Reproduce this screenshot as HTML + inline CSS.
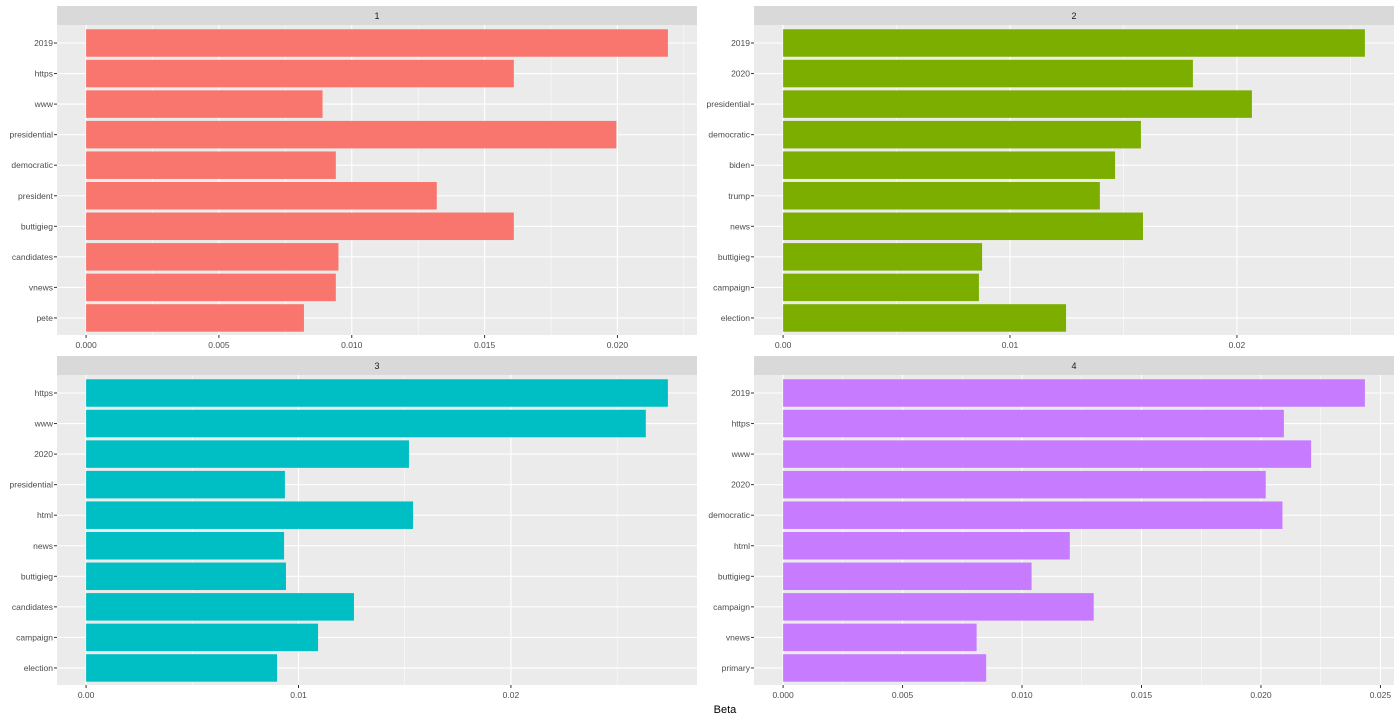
<!DOCTYPE html>
<html><head><meta charset="utf-8"><style>
body{margin:0;background:#fff;font-family:"Liberation Sans",sans-serif;}
svg text{font-family:"Liberation Sans",sans-serif;}
</style></head><body>
<svg id="chart" width="1400" height="720"></svg>
<script>
const terms1=["2019","https","www","presidential","democratic","president","buttigieg","candidates","vnews","pete"];
const beta1=[0.0219,0.0161,0.0089,0.01996,0.0094,0.0132,0.0161,0.0095,0.0094,0.0082];
const terms2=["2019","2020","presidential","democratic","biden","trump","news","buttigieg","campaign","election"];
const beta2=[0.02564,0.01806,0.02066,0.01577,0.01463,0.01396,0.01586,0.00877,0.00863,0.01247];
const terms3=["https","www","2020","presidential","html","news","buttigieg","candidates","campaign","election"];
const beta3=[0.02739,0.02635,0.0152,0.00936,0.01539,0.00932,0.00941,0.01261,0.01092,0.00899];
const terms4=["2019","https","www","2020","democratic","html","buttigieg","campaign","vnews","primary"];
const beta4=[0.02435,0.02096,0.0221,0.0202,0.0209,0.0120,0.0104,0.0130,0.0081,0.0085];
const ticks1=["0.000","0.005","0.010","0.015","0.020"];
const ticks2=["0.00","0.01","0.02"];
const ticks3=["0.00","0.01","0.02"];
const ticks4=["0.000","0.005","0.010","0.015","0.020","0.025"];
const panelLabels=["1","2","3","4"];

const NS="http://www.w3.org/2000/svg";
const svg=document.getElementById("chart");
function mk(tag,attrs,parent){const e=document.createElementNS(NS,tag);for(const k in attrs)e.setAttribute(k,attrs[k]);(parent||svg).appendChild(e);return e;}
const panels=[
 {t:terms1,b:beta1,ticks:ticks1,x:57,y:25,color:"#F8766D"},
 {t:terms2,b:beta2,ticks:ticks2,x:754,y:25,color:"#7CAE00"},
 {t:terms3,b:beta3,ticks:ticks3,x:57,y:375,color:"#00BFC4"},
 {t:terms4,b:beta4,ticks:ticks4,x:754,y:375,color:"#C77CFF"}];
const W=640,H=310;
panels.forEach((p,pi)=>{
  const g=mk("g",{});
  
  
  const mx=Math.max(...p.b);
  const lo=-0.05*mx,hi=mx*1.05;
  const sx=v=>p.x+(v-lo)/(hi-lo)*W;
  const step=30.55;
  const sy=i=>p.y+18+i*step;
  const strip=mk("rect",{x:p.x,y:p.y-19,width:W,height:19,fill:"#D9D9D9"},g);
  
  
  const st=mk("text",{x:p.x+W/2,y:p.y-6,"font-size":9,fill:"#1A1A1A","text-anchor":"middle"},g);st.textContent=panelLabels[pi];
  
  
  mk("rect",{x:p.x,y:p.y,width:W,height:H,fill:"#EBEBEB"},g);
  const tv=p.ticks.map(Number);
  const d=tv[1]-tv[0];
  for(let k=-1;k<tv.length;k++){const v=tv[0]+d*(k+0.5);if(v>lo&&v<hi)mk("line",{x1:sx(v),x2:sx(v),y1:p.y,y2:p.y+H,stroke:"#fff","stroke-width":0.5},g);}
  tv.forEach((v,k)=>{
    mk("line",{x1:sx(v),x2:sx(v),y1:p.y,y2:p.y+H,stroke:"#fff","stroke-width":1.1},g);
    mk("line",{x1:sx(v),x2:sx(v),y1:p.y+H,y2:p.y+H+3,stroke:"#333","stroke-width":1},g);
    const tl=mk("text",{x:sx(v),y:p.y+H+13,"font-size":8.5,fill:"#4D4D4D","text-anchor":"middle"},g);tl.textContent=p.ticks[k];
    
    
  });
  p.t.forEach((t,i)=>{
    mk("line",{x1:p.x,x2:p.x+W,y1:sy(i),y2:sy(i),stroke:"#fff","stroke-width":1.1},g);
  });
  p.t.forEach((t,i)=>{
    const r=mk("rect",{x:sx(0),y:sy(i)-step*0.45,width:sx(p.b[i])-sx(0),height:step*0.9,fill:p.color},g);
    
    
    mk("line",{x1:p.x-3,x2:p.x,y1:sy(i),y2:sy(i),stroke:"#333","stroke-width":1},g);
    const lb=mk("text",{x:p.x-4,y:sy(i)+3,"font-size":8.5,fill:"#4D4D4D","text-anchor":"end"},g);lb.textContent=t;
    
    
  });
});
const xt=mk("text",{x:725,y:713,"font-size":11,fill:"#000","text-anchor":"middle"});xt.textContent="Beta";


</script>
</body></html>
